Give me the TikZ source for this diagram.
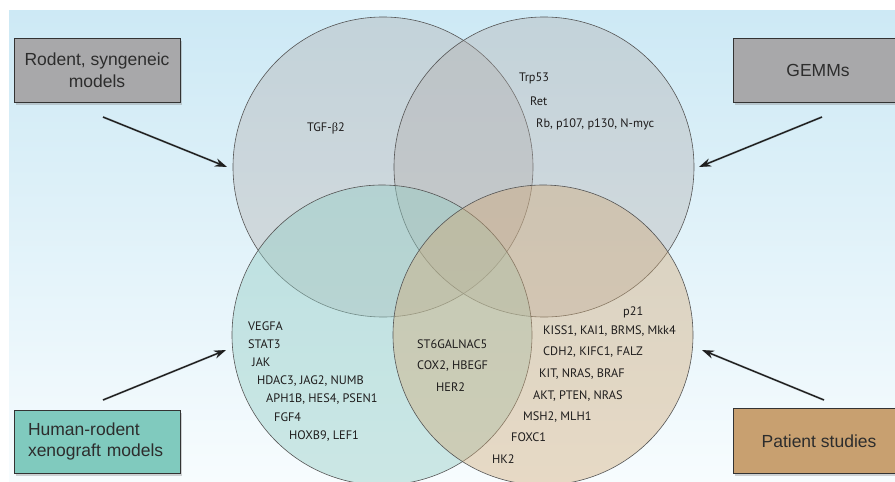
\documentclass[tikz,border=0pt]{standalone}
\usepackage{fontspec}
\setmainfont{PT Sans}
\newfontfamily\boxfont{Liberation Sans}
\newfontfamily\grk{Liberation Serif}
\usetikzlibrary{arrows.meta,shadows}
\definecolor{bgtop}{RGB}{205,233,245}
\definecolor{bgbot}{RGB}{247,252,254}
\definecolor{grayfill}{RGB}{176,170,168}
\definecolor{tealfill}{RGB}{150,206,198}
\definecolor{tanfill}{RGB}{209,170,120}
\definecolor{edgec}{RGB}{85,85,85}
\definecolor{txt}{RGB}{30,28,28}
\definecolor{boxtxt}{RGB}{45,45,45}
\definecolor{boxgray}{RGB}{168,168,170}
\definecolor{boxteal}{RGB}{128,202,190}
\definecolor{boxtan}{RGB}{200,160,112}
\begin{document}
\begin{tikzpicture}[x=1pt,y=-1pt,
  setcircle/.style={draw=edgec,line width=0.6pt,fill=#1,fill opacity=0.35},
  labelbox/.style={draw=black!80,line width=0.7pt,text=boxtxt,font=\boxfont\fontsize{17.5}{21.5}\selectfont,
    inner sep=0pt,drop shadow={shadow xshift=2pt,shadow yshift=-2.5pt,opacity=0.35}},
  gene/.style={anchor=west,inner sep=0pt,text=txt,font=\fontsize{12.3}{14}\selectfont},
  arr/.style={draw=black!88,line width=1.4pt,-{Stealth[length=12pt,width=8pt]}},
  arrshadow/.style={draw=black,opacity=0.18,line width=2.2pt,-{Stealth[length=12pt,width=9pt]}}]
\useasboundingbox (0,0) rectangle (895,482);
\clip (0,0) rectangle (895,482);
% background
\shade[top color=bgtop,bottom color=bgbot] (9,10) rectangle (895,482);
% circles
\draw[setcircle=grayfill] (383,167) circle[radius=150];
\draw[setcircle=grayfill] (544,167) circle[radius=150];
\draw[setcircle=tealfill,fill opacity=0.45] (382,335) circle[radius=150];
\draw[setcircle=tanfill,fill opacity=0.42] (543,335) circle[radius=150];
% boxes
\node[labelbox,fill=boxgray,minimum width=166pt,minimum height=64pt,align=center] (rod) at (97,70) {Rodent, syngeneic\\models};
\node[labelbox,fill=boxgray,minimum width=170pt,minimum height=64pt] (gem) at (818,70) {};
\node[text=boxtxt,font=\boxfont\fontsize{17.5}{21.5}\selectfont] (gemt) at (818,70) {GEMMs};
\node[labelbox,fill=boxteal,minimum width=166pt,minimum height=63pt,align=left,text width=138pt] (hum) at (97,441.5) {Human-rodent\\xenograft models};
\node[labelbox,fill=boxtan,minimum width=170pt,minimum height=65pt] (pat) at (818,440.5) {};
\node[text=boxtxt,font=\boxfont\fontsize{17.5}{21.5}\selectfont] (patt) at (819,441) {Patient studies};
% arrows
\coordinate (a1s) at (103,117); \coordinate (a1e) at (227,167);
\coordinate (a2s) at (822,117); \coordinate (a2e) at (699,167);
\coordinate (a3s) at (103,400); \coordinate (a3e) at (226,350);
\coordinate (a4s) at (824,400); \coordinate (a4e) at (702,350);
\begin{scope}[shift={(1.5,2.5)}]
\draw[arrshadow] (a1s) -- (a1e);
\draw[arrshadow] (a2s) -- (a2e);
\draw[arrshadow] (a3s) -- (a3e);
\draw[arrshadow] (a4s) -- (a4e);
\end{scope}
\draw[arr] (a1s) -- (a1e);
\draw[arr] (a2s) -- (a2e);
\draw[arr] (a3s) -- (a3e);
\draw[arr] (a4s) -- (a4e);
% gene labels: top
\node[gene] (tgf) at (307,128) {TGF-{\grk β}2};
\node[gene] (trp) at (519,78) {Trp53};
\node[gene] (ret) at (530,101) {Ret};
\node[gene] (rb) at (536,124) {Rb, p107, p130, N-myc};
% bottom left
\node[gene] (veg) at (248,326) {VEGFA};
\node[gene] (sta) at (248,344) {STAT3};
\node[gene] (jak) at (252,362) {JAK};
\node[gene] (hda) at (257,381) {HDAC3, JAG2, NUMB};
\node[gene] (aph) at (266,399) {APH1B, HES4, PSEN1};
\node[gene] (fgf) at (274,417) {FGF4};
\node[gene] (hox) at (289,436) {HOXB9, LEF1};
% middle
\node[gene] (st6) at (417,344) {ST6GALNAC5};
\node[gene] (cox) at (417,366) {COX2, HBEGF};
\node[gene] (her) at (436,387) {HER2};
% bottom right
\node[gene] (p21) at (623,312) {p21};
\node[gene] (kis) at (543,331) {KISS1, KAI1, BRMS, Mkk4};
\node[gene] (cdh) at (543,352) {CDH2, KIFC1, FALZ};
\node[gene] (kit) at (539,374) {KIT, NRAS, BRAF};
\node[gene] (akt) at (533,396) {AKT, PTEN, NRAS};
\node[gene] (msh) at (523,417) {MSH2, MLH1};
\node[gene] (fox) at (511,437) {FOXC1};
\node[gene] (hk2) at (492,459) {HK2};
\end{tikzpicture}
\end{document}
